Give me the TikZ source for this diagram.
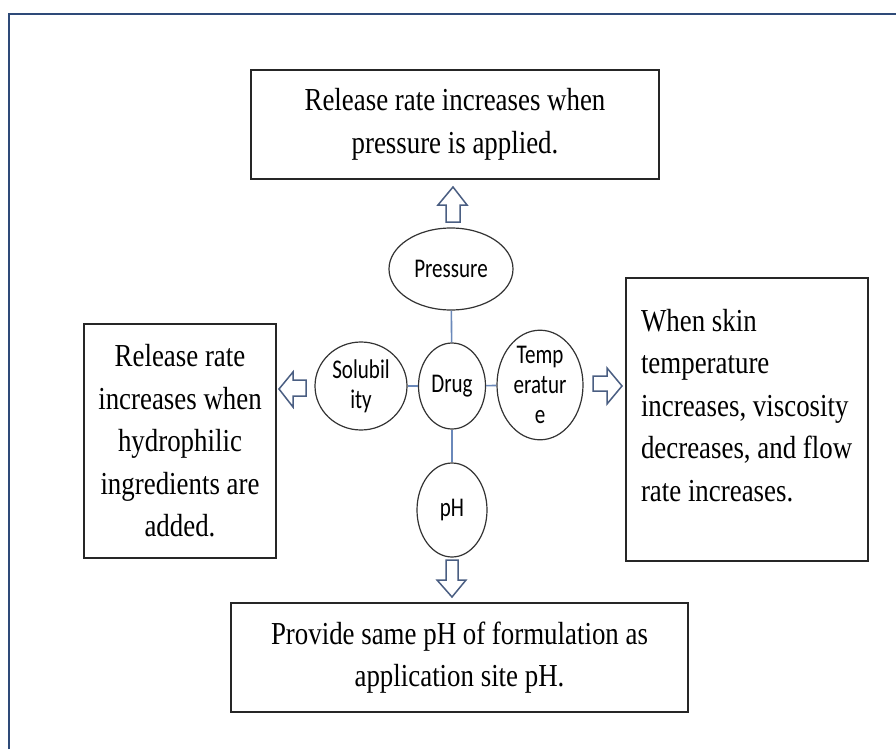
\documentclass[tikz,border=0pt]{standalone}
\usepackage{fontspec}
\usetikzlibrary{shapes.geometric}
\newfontfamily\boxfont[FakeStretch=0.84]{Liberation Serif}
\newfontfamily\lblfont[FakeStretch=0.78]{Carlito}
\definecolor{framecol}{HTML}{2E4A78}
\definecolor{linkcol}{HTML}{6A88BA}
\definecolor{arrcol}{HTML}{4A5E82}
\tikzset{
  textbox/.style={draw=black!85, line width=1.3pt, fill=white, inner sep=4pt,
    font=\boxfont\fontsize{32}{42.5}\selectfont, align=center},
  bubble/.style={ellipse, draw=black!80, line width=1.2pt, fill=white, inner sep=0pt,
    font=\lblfont\fontsize{27}{30}\selectfont, align=center},
  link/.style={draw=linkcol, line width=1.6pt},
  blockarr/.style={draw=arrcol, line width=1.5pt, fill=white, line join=miter}
}
\begin{document}
\begin{tikzpicture}[x=1pt,y=-1pt]
\useasboundingbox (0,0) rectangle (896,749);
\fill[white] (0,0) rectangle (896,749);
% outer frame
\draw[framecol, line width=2.2pt] (9,749) -- (9,14) -- (896,14);

% boxes
\node[textbox, minimum width=408pt, minimum height=109pt] (top) at (455,124.5)
  {Release rate increases when\\pressure is applied.};
\node[textbox, minimum width=192pt, minimum height=234pt] (left) at (180,441)
  {Release rate\\increases when\\hydrophilic\\ingredients are\\added.};
\node[textbox, minimum width=242pt, minimum height=283pt, align=flush left, text width=212pt] (right) at (747,419.5)
  {When skin\\temperature\\increases, viscosity\\decreases, and flow\\rate increases.\rule[-29pt]{0pt}{0pt}};
\node[textbox, minimum width=457pt, minimum height=109pt] (bottom) at (459.5,657.5)
  {Provide same pH of formulation as\\application site pH.};

% bubbles
\node[bubble, minimum width=124pt, minimum height=82pt] (pressure) at (451,269) {Pressure};
\node[bubble, minimum width=67pt, minimum height=86pt] (drug) at (452,386) {Drug};
\node[bubble, minimum width=92pt, minimum height=88pt] (solub) at (361,386) {Solubil\\ity};
\node[bubble, minimum width=86pt, minimum height=94pt] (temp) at (540,385) {Temp\\eratur\\e};
\node[bubble, minimum width=70pt, minimum height=94pt] (ph) at (452,510) {pH};

% connectors
\draw[link] (pressure) -- (drug);
\draw[link] (solub) -- (drug);
\draw[link] (drug) -- (temp);
\draw[link] (drug) -- (ph);

% block arrows
% up (above Pressure)
\draw[blockarr] (446,222) -- (446,205) -- (438,205) -- (453,187) -- (467,205) -- (460,205) -- (460,222) -- cycle;
% down (below pH)
\draw[blockarr] (446,560) -- (446,580) -- (437,580) -- (452,597) -- (466,580) -- (458,580) -- (458,560) -- cycle;
% right (beside Temperature)
\draw[blockarr] (593,376) -- (607,376) -- (607,368) -- (622,386) -- (607,404) -- (607,391) -- (593,391) -- cycle;
% left (beside Solubility)
\draw[blockarr] (306,380) -- (293,380) -- (293,372) -- (279,389) -- (293,407) -- (293,396) -- (306,396) -- cycle;
\end{tikzpicture}
\end{document}
